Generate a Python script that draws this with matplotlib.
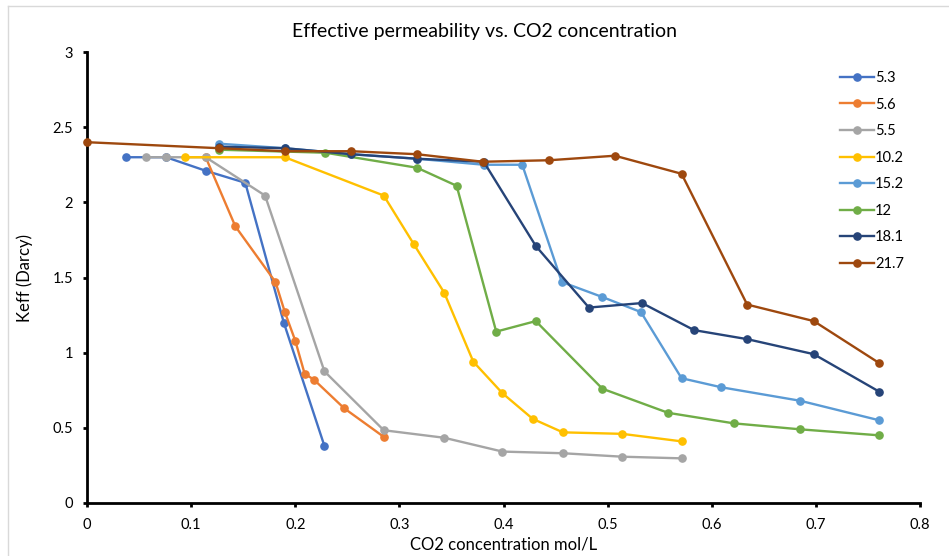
import matplotlib
matplotlib.use("Agg")
import matplotlib.pyplot as plt
from matplotlib.lines import Line2D

plt.rcParams['font.family'] = ['Lato', 'DejaVu Sans']

# CO2 concentration (mol/L) and Keff (Darcy) for each series
labels = ["5.3", "5.6", "5.5", "10.2", "15.2", "12", "18.1", "21.7"]
colors = ["#4472C4", "#ED7D31", "#A5A5A5", "#FFC000",
          "#5B9BD5", "#70AD47", "#264478", "#9E480E"]

x_53 = [0.0375, 0.076, 0.114, 0.152, 0.189, 0.228]
y_53 = [2.30, 2.30, 2.21, 2.13, 1.20, 0.38]

x_56 = [0.114, 0.1425, 0.181, 0.190, 0.200, 0.209, 0.218, 0.247, 0.285]
y_56 = [2.30, 1.84, 1.47, 1.27, 1.08, 0.86, 0.82, 0.63, 0.44]

x_55 = [0.057, 0.076, 0.114, 0.171, 0.228, 0.285, 0.343, 0.399, 0.457, 0.514, 0.571]
y_55 = [2.30, 2.30, 2.30, 2.045, 0.876, 0.484, 0.434, 0.342, 0.331, 0.308, 0.297]

x_102 = [0.0945, 0.190, 0.285, 0.314, 0.343, 0.371, 0.399, 0.428, 0.457, 0.514, 0.571]
y_102 = [2.30, 2.30, 2.045, 1.72, 1.40, 0.94, 0.73, 0.56, 0.47, 0.46, 0.41]

x_152 = [0.127, 0.190, 0.254, 0.317, 0.381, 0.418, 0.456, 0.495, 0.532, 0.571, 0.609, 0.685, 0.761]
y_152 = [2.39, 2.36, 2.32, 2.29, 2.25, 2.25, 1.47, 1.37, 1.27, 0.83, 0.77, 0.68, 0.55]

x_12 = [0.127, 0.229, 0.317, 0.355, 0.393, 0.431, 0.495, 0.558, 0.621, 0.685, 0.761]
y_12 = [2.35, 2.33, 2.23, 2.11, 1.14, 1.21, 0.76, 0.60, 0.53, 0.49, 0.45]

x_181 = [0.127, 0.190, 0.254, 0.317, 0.381, 0.431, 0.482, 0.533, 0.583, 0.634, 0.698, 0.761]
y_181 = [2.37, 2.36, 2.32, 2.29, 2.27, 1.71, 1.30, 1.33, 1.15, 1.09, 0.99, 0.74]

x_217 = [0.0, 0.127, 0.190, 0.254, 0.317, 0.380, 0.444, 0.507, 0.571, 0.634, 0.698, 0.761]
y_217 = [2.40, 2.36, 2.34, 2.34, 2.32, 2.27, 2.28, 2.31, 2.19, 1.32, 1.21, 0.93]

xs = [x_53, x_56, x_55, x_102, x_152, x_12, x_181, x_217]
ys = [y_53, y_56, y_55, y_102, y_152, y_12, y_181, y_217]

x_ticks = [0, 0.1, 0.2, 0.3, 0.4, 0.5, 0.6, 0.7, 0.8]
x_ticklabels = ["0", "0.1", "0.2", "0.3", "0.4", "0.5", "0.6", "0.7", "0.8"]
y_ticks = [0, 0.5, 1, 1.5, 2, 2.5, 3]
y_ticklabels = ["0", "0.5", "1", "1.5", "2", "2.5", "3"]

fig = plt.figure(figsize=(9.49, 5.56), dpi=100)
ax = fig.add_axes([87 / 949, 53 / 556, (920 - 87) / 949, (503 - 52) / 556])

for x, y, lab, c in zip(xs, ys, labels, colors):
    ax.plot(x, y, color=c, linewidth=1.7, marker='o', markersize=5.2,
            label=lab, clip_on=False, zorder=3)

ax.set_xlim(0, 0.8)
ax.set_ylim(0, 3)
ax.set_xticks(x_ticks)
ax.set_xticklabels(x_ticklabels)
ax.set_yticks(y_ticks)
ax.set_yticklabels(y_ticklabels)

for side in ['top', 'right']:
    ax.spines[side].set_visible(False)
for side in ['left', 'bottom']:
    ax.spines[side].set_linewidth(2.0)
    ax.spines[side].set_color('black')
ax.tick_params(axis='both', direction='out', length=3, width=2.0,
               labelsize=10.5, colors='black')
ax.tick_params(axis='x', pad=8)
ax.tick_params(axis='y', pad=7)

ax.set_xlabel("CO2 concentration mol/L", fontsize=12)
ax.set_ylabel("Keff (Darcy)", fontsize=12)
ax.xaxis.set_label_coords(0.5, (503 - 536) / 451, transform=ax.transAxes)
ax.yaxis.set_label_coords((33 - 87) / 833, 0.5, transform=ax.transAxes)

fig.text(485 / 949, 1 - 32 / 556, "Effective permeability vs. CO2 concentration",
         ha='center', va='center', fontsize=14)

ax.legend(loc='upper left', bbox_to_anchor=(840 / 949, 1 - 71 / 556),
          bbox_transform=fig.transFigure, frameon=False, fontsize=10.5,
          handlelength=2.3, handletextpad=0.1, labelspacing=0.86,
          borderaxespad=0, borderpad=0)

# light chart-area border visible at the left and top
fig.add_artist(Line2D([8 / 949, 8 / 949], [0, 1 - 6 / 556],
                      transform=fig.transFigure, color='#d9d9d9', linewidth=1))
fig.add_artist(Line2D([8 / 949, 1], [1 - 6 / 556, 1 - 6 / 556],
                      transform=fig.transFigure, color='#d9d9d9', linewidth=1))

fig.savefig("out.png", dpi=100)
